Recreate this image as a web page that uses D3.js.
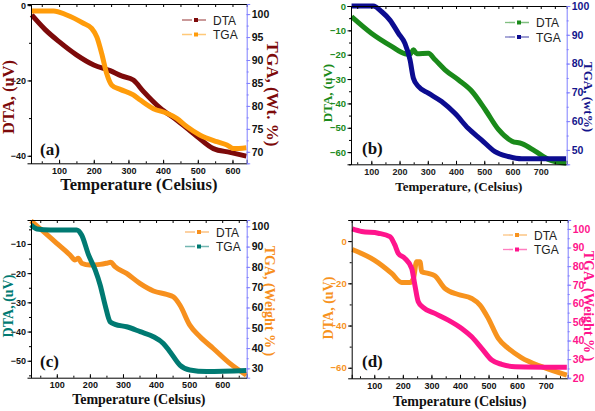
<!DOCTYPE html>
<html>
<head>
<meta charset="utf-8">
<script src="https://cdn.jsdelivr.net/npm/d3@7"></script>
<style>
  body { margin: 0; background: #fff; }
  svg { display: block; }
  .tick text { font-family: "Liberation Sans", Arial, sans-serif; font-weight: bold; }
  .title { font-family: "Liberation Serif", "Times New Roman", serif; font-weight: bold; }
  .legend text { font-family: "Liberation Sans", Arial, sans-serif; font-size: 12px; }
</style>
</head>
<body>
<div id="chart-container"></div>
<script>
// ---- data: [temperature, value] ----
const aDTA = [[21,-2.6],[60,-6.5],[100,-9.7],[150,-13.2],[200,-15.9],[247,-17.4],[280,-18.8],[314,-19.9],[343,-22.9],[391,-27.3],[439,-30.5],[470,-32.8],[497,-34.8],[545,-38.1],[593,-39.1],[640,-40.1]];
const aTGA = [[21,100.7],[84,100.7],[122,99.8],[170,98],[194,96.9],[209,95],[223,91.4],[237,87.1],[252,84.5],[276,83.6],[314,82.4],[334,81.3],[372,79.4],[411,78.4],[439,77.3],[468,75.5],[507,73.6],[555,72.2],[584,71.5],[603,70.7],[640,70.9]];

const bDTA = [[30,-4.4],[100,-11.2],[172,-16.6],[219,-19.6],[237,-19.8],[249,-18],[261,-19.6],[302,-19.4],[326,-22.1],[361,-26.2],[408,-30.3],[456,-35],[503,-42.5],[550,-50.7],[598,-55.5],[633,-56.5],[680,-59.6],[727,-63],[790,-64.6]];
const bTGA = [[30,100],[107,100],[137,98],[166,95.1],[196,90.5],[219,87],[237,81.3],[249,74.9],[267,72],[302,69.7],[349,66.8],[396,62.7],[443,57.5],[490,53.5],[538,49.4],[585,47.7],[633,46.9],[790,46.9]];

const cDTA = [[22,-2.1],[60,-5.8],[100,-9.8],[140,-13.8],[155,-15.5],[165,-14.9],[175,-16.6],[200,-17.2],[231,-17],[251,-16.6],[263,-16.3],[276,-17.8],[311,-20.1],[351,-23.5],[392,-26.1],[432,-27.3],[452,-28.1],[472,-30.9],[502,-37.8],[533,-41.8],[573,-45.8],[623,-50.9],[673,-54.9]];
const cTGA = [[22,100.7],[40,98.7],[80,98.2],[160,98.2],[175,95.7],[196,85.9],[216,78.5],[231,71.1],[246,61.2],[261,53],[276,51.7],[311,50.5],[352,48.1],[392,45.6],[422,42.3],[442,38.2],[472,31.6],[502,29.2],[553,28.4],[673,28.9]];

const dDTA = [[23,-4],[100,-9],[161,-15.3],[196,-19.6],[225,-19.6],[237,-17.7],[248,-9.8],[260,-9.8],[266,-14.5],[289,-15.3],[312,-16.4],[347,-22.4],[394,-25.3],[441,-27.2],[470,-30.3],[499,-36.6],[534,-46.1],[569,-50.8],[616,-55.3],[686,-59.5],[774,-63.5]];
const dTGA = [[23,100],[56,98.6],[114,97.7],[155,95.9],[172,91.4],[184,86.9],[207,84.2],[231,78.8],[242,69.9],[254,60.9],[272,57.7],[312,54.6],[359,51],[406,46.5],[441,42],[476,35.8],[511,29.5],[546,27.2],[593,25.9],[774,25.6]];

// ---- tick values ----
const ticksX6 = [100, 200, 300, 400, 500, 600];
const ticksX7 = [100, 200, 300, 400, 500, 600, 700];
const aLeftTicks = [0, -20, -40];
const aRightTicks = [70, 75, 80, 85, 90, 95, 100];
const bLeftTicks = [0, -10, -20, -30, -40, -50, -60];
const bRightTicks = [50, 60, 70, 80, 90, 100];
const cLeftTicks = [-10, -20, -30, -40, -50];
const cRightTicks = [30, 40, 50, 60, 70, 80, 90, 100];
const dLeftTicks = [0, -20, -40, -60];
const dRightTicks = [20, 30, 40, 50, 60, 70, 80, 90, 100];

const panels = [
  { dta: aDTA, tga: aTGA, dtaColor: "#7d0a0a", tgaColor: "#ff9c0a",
    box: [31, 246.7, 4, 163.3], xDom: [19, 641], lDom: [-42, 0.3], rDom: [67.5, 102.2],
    xTicks: ticksX6, lTicks: aLeftTicks, lStep: 10, rTicks: aRightTicks, rStep: 2.5,
    lLabel: "#111", rLabel: "#111", bLabel: "#111", lTickSize: 9, rTickSize: 10.5,
    letter: "(a)", letterPos: [40, 155],
    xTitle: "Temperature (Celsius)", xTitleSize: 16.5, xTitleY: 190,
    lTitle: "DTA, (uV)", lTitleColor: "#7d0a0a", lTitlePos: [14, 97], lTitleSize: 16.5,
    rTitle: "TGA, (Wt. %)", rTitleColor: "#7d0a0a", rTitlePos: [267, 94], rTitleSize: 17,
    legend: [182, 20] },
  { dta: bDTA, tga: bTGA, dtaColor: "#1a8a1a", tgaColor: "#0c0c90",
    box: [351, 566.7, 6, 164.3], xDom: [28, 792], lDom: [-65, 0], rDom: [45, 100],
    xTicks: ticksX7, lTicks: bLeftTicks, lStep: 5, rTicks: bRightTicks, rStep: 5,
    lLabel: "#1a8a1a", rLabel: "#14148c", bLabel: "#222", lTickSize: 9.5, rTickSize: 10.5,
    letter: "(b)", letterPos: [362, 154],
    xTitle: "Temperature, (Celsius)", xTitleSize: 13, xTitleY: 191,
    lTitle: "DTA, (uV)", lTitleColor: "#1a8a1a", lTitlePos: [332, 93], lTitleSize: 13,
    rTitle: "TGA, (wt%)", rTitleColor: "#14148c", rTitlePos: [584, 97], rTitleSize: 13,
    legend: [505, 22.5] },
  { dta: cDTA, tga: cTGA, dtaColor: "#f7901e", tgaColor: "#007a72",
    box: [31, 246.7, 220, 377.7], xDom: [22, 674], lDom: [-55.8, -1.8], rDom: [25.4, 103.1],
    xTicks: ticksX6, lTicks: cLeftTicks, lStep: 5, rTicks: cRightTicks, rStep: 5,
    lLabel: "#111", rLabel: "#111", bLabel: "#111", lTickSize: 9, rTickSize: 10.5,
    letter: "(c)", letterPos: [40, 367],
    xTitle: "Temperature (Celsius)", xTitleSize: 14, xTitleY: 404,
    lTitle: "DTA, (uV)", lTitleColor: "#007a72", lTitlePos: [12.5, 306], lTitleSize: 14,
    rTitle: "TGA, (Weight % )", rTitleColor: "#f7901e", rTitlePos: [265, 301], rTitleSize: 14,
    legend: [185, 232] },
  { dta: dDTA, tga: dTGA, dtaColor: "#f7931e", tgaColor: "#ff148c",
    box: [351.7, 567.7, 220, 378.3], xDom: [21, 777], lDom: [-65, 10], rDom: [19.7, 104.8],
    xTicks: ticksX7, lTicks: dLeftTicks, lStep: 10, rTicks: dRightTicks, rStep: 5,
    lLabel: "#f7931e", rLabel: "#ff148c", bLabel: "#111", lTickSize: 9.5, rTickSize: 10.5,
    letter: "(d)", letterPos: [362, 367],
    xTitle: "Temperature (Celsius)", xTitleSize: 14, xTitleY: 406,
    lTitle: "DTA, (uV)", lTitleColor: "#f7931e", lTitlePos: [333, 308], lTitleSize: 14,
    rTitle: "TGA, (Weight % )", rTitleColor: "#ff148c", rTitlePos: [584, 306], rTitleSize: 14,
    legend: [503, 235] }
];

const svg = d3.select("#chart-container").append("svg")
  .attr("width", 595)
  .attr("height", 411);

panels.forEach(drawPanel);

function minorTicks(dom, step) {
  const lo = Math.min(dom[0], dom[1]), hi = Math.max(dom[0], dom[1]);
  return d3.range(Math.ceil(lo / step) * step, hi + 1e-9, step);
}

function drawPanel(p) {
  const [x0, x1, y0, y1] = p.box;
  const g = svg.append("g");

  const x = d3.scaleLinear().domain(p.xDom).range([x0, x1]);
  const yL = d3.scaleLinear().domain(p.lDom).range([y1, y0]);
  const yR = d3.scaleLinear().domain(p.rDom).range([y1, y0]);

  const lineL = d3.line().x(d => x(d[0])).y(d => yL(d[1])).curve(d3.curveMonotoneX);
  const lineR = d3.line().x(d => x(d[0])).y(d => yR(d[1])).curve(d3.curveMonotoneX);

  g.append("path").datum(p.dta)
    .attr("d", lineL).attr("fill", "none")
    .attr("stroke", p.dtaColor).attr("stroke-width", 5).attr("stroke-linejoin", "round");
  g.append("path").datum(p.tga)
    .attr("d", lineR).attr("fill", "none")
    .attr("stroke", p.tgaColor).attr("stroke-width", 5).attr("stroke-linejoin", "round");

  // bottom axis, ticks pointing inward
  const bottom = g.append("g").attr("transform", "translate(0," + y1 + ")")
    .call(d3.axisBottom(x).tickValues(p.xTicks).tickSize(-3.5).tickPadding(4).tickFormat(d3.format("d")));
  bottom.selectAll("text").attr("fill", p.bLabel).style("font-size", "9px");
  g.append("g").attr("transform", "translate(0," + y1 + ")")
    .call(d3.axisBottom(x).tickValues(minorTicks(p.xDom, 50)).tickSize(-2).tickFormat(""))
    .select(".domain").remove();

  // top axis, ticks inward, no labels
  g.append("g").attr("transform", "translate(0," + y0 + ")")
    .call(d3.axisTop(x).tickValues(minorTicks(p.xDom, 50)).tickSize(-3).tickFormat(""));

  // left axis
  const left = g.append("g").attr("transform", "translate(" + x0 + ",0)")
    .call(d3.axisLeft(yL).tickValues(p.lTicks).tickSize(3.5).tickPadding(1.5).tickFormat(d3.format("d")));
  left.selectAll("text").attr("fill", p.lLabel).style("font-size", p.lTickSize + "px");
  g.append("g").attr("transform", "translate(" + x0 + ",0)")
    .call(d3.axisLeft(yL).tickValues(minorTicks(p.lDom, p.lStep)).tickSize(2).tickFormat(""))
    .select(".domain").remove();

  // right axis (blue line)
  const right = g.append("g").attr("transform", "translate(" + x1 + ",0)")
    .call(d3.axisRight(yR).tickValues(p.rTicks).tickSize(3.5).tickPadding(1.5).tickFormat(d3.format("d")));
  right.select(".domain").attr("stroke", "#7f7fff");
  right.selectAll(".tick line").attr("stroke", "#7f7fff");
  right.selectAll("text").attr("fill", p.rLabel).style("font-size", p.rTickSize + "px");
  const rMinor = g.append("g").attr("transform", "translate(" + x1 + ",0)")
    .call(d3.axisRight(yR).tickValues(minorTicks(p.rDom, p.rStep)).tickSize(2).tickFormat(""));
  rMinor.select(".domain").remove();
  rMinor.selectAll(".tick line").attr("stroke", "#7f7fff");

  // titles
  g.append("text").attr("class", "title")
    .attr("x", (x0 + x1) / 2).attr("y", p.xTitleY)
    .attr("text-anchor", "middle").style("font-size", p.xTitleSize + "px")
    .attr("fill", "#111").text(p.xTitle);
  g.append("text").attr("class", "title")
    .attr("transform", "translate(" + p.lTitlePos[0] + "," + p.lTitlePos[1] + ") rotate(-90)")
    .attr("text-anchor", "middle").style("font-size", p.lTitleSize + "px")
    .attr("fill", p.lTitleColor).text(p.lTitle);
  g.append("text").attr("class", "title")
    .attr("transform", "translate(" + p.rTitlePos[0] + "," + p.rTitlePos[1] + ") rotate(90)")
    .attr("text-anchor", "middle").style("font-size", p.rTitleSize + "px")
    .attr("fill", p.rTitleColor).text(p.rTitle);
  g.append("text").attr("class", "title")
    .attr("x", p.letterPos[0]).attr("y", p.letterPos[1])
    .style("font-size", "17px").attr("fill", "#111").text(p.letter);

  // legend
  const lg = g.append("g").attr("class", "legend")
    .attr("transform", "translate(" + p.legend[0] + "," + p.legend[1] + ")");
  [["DTA", p.dtaColor], ["TGA", p.tgaColor]].forEach(function (d, i) {
    const row = lg.append("g").attr("transform", "translate(0," + i * 14.5 + ")");
    row.append("line").attr("x1", 0).attr("x2", 28).attr("y1", 0).attr("y2", 0)
      .attr("stroke", d[1]).attr("stroke-opacity", 0.55).attr("stroke-width", 1.3)
      .attr("stroke-dasharray", "10,4");
    row.append("rect").attr("x", 12).attr("y", -2).attr("width", 4).attr("height", 4)
      .attr("fill", d[1]);
    row.append("text").attr("x", 31).attr("y", 4.5).attr("fill", "#222").text(d[0]);
  });
}
</script>
</body>
</html>
